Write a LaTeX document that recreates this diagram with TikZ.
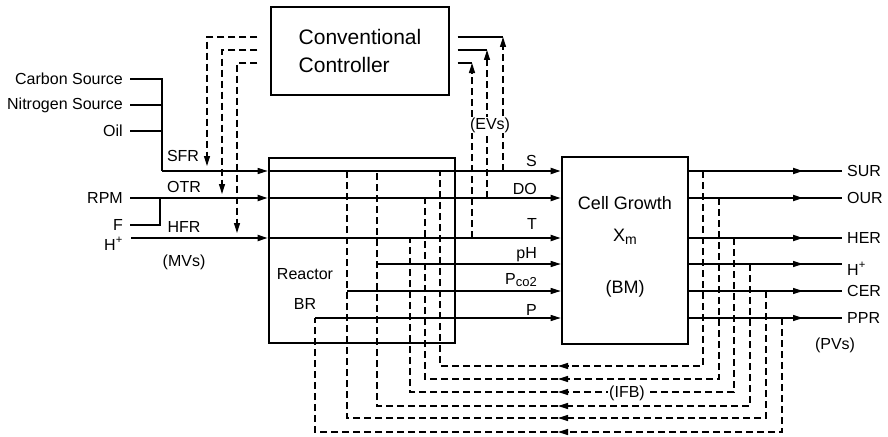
\documentclass[tikz,border=0pt]{standalone}
\usepackage{fontspec}
\setmainfont{Liberation Sans}
\usetikzlibrary{arrows.meta, positioning, calc}

\newcommand{\lowtxt}[2]{\raisebox{-0.35ex}{\fontsize{#1}{#1}\selectfont #2}}

\begin{document}
\begin{tikzpicture}[x=1pt, y=-1pt,
    blk/.style={draw, line width=2.6pt, inner sep=0pt},
    lbl/.style={font=\fontsize{16}{19}\selectfont, inner sep=1pt},
    sig/.style={line width=1.8pt},
    wire/.style={line width=1.2pt},
    fb/.style={line width=1.2pt, dash pattern=on 7pt off 4pt},
    tip/.style={-{Triangle[length=10pt,width=6pt]}},
]
\useasboundingbox (0,0) rectangle (888,436);

% Blocks
\node[draw, line width=1.3pt, minimum width=178pt, minimum height=88pt, align=left, font=\fontsize{21}{28}\selectfont] (ctrl) at (360,51) {Conventional\\Controller};
\node[blk, minimum width=186pt, minimum height=185pt] (reactor) at (362,250.5) {};
\node[blk, minimum width=126pt, minimum height=187pt] (cell) at (625,250.5) {};

% Block texts
\node[lbl, anchor=base] (rtxt) at (305,279) {Reactor};
\node[lbl, anchor=base] (brtxt) at (305,309) {BR};
\node[font=\fontsize{18}{21}\selectfont, anchor=base] (ctxt) at (625,209.5) {Cell Growth};
\node[font=\fontsize{18}{21}\selectfont, anchor=base] (xmtxt) at (625,241.5) {X\lowtxt{14}{m}};
\node[font=\fontsize{18}{21}\selectfont, anchor=base] (bmtxt) at (625,293) {(BM)};

% Signal levels and columns
\coordinate (yS) at (0,171);
\coordinate (yDO) at (0,198);
\coordinate (yT) at (0,238);
\coordinate (ypH) at (0,264);
\coordinate (yPc) at (0,291);
\coordinate (yP) at (0,318);
\coordinate (c1) at (0,37);
\coordinate (c2) at (0,50);
\coordinate (c3) at (0,63);
\coordinate (xr1) at (440,0);
\coordinate (xr2) at (425,0);
\coordinate (xr3) at (410,0);
\coordinate (xr4) at (377,0);
\coordinate (xr5) at (347,0);
\coordinate (xr6) at (315,0);
\coordinate (xo1) at (703,0);
\coordinate (xo2) at (719,0);
\coordinate (xo3) at (734,0);
\coordinate (xo4) at (750,0);
\coordinate (xo5) at (766,0);
\coordinate (xo6) at (782,0);
\coordinate (yf1) at (0,366);
\coordinate (yf2) at (0,379);
\coordinate (yf3) at (0,392);
\coordinate (yf4) at (0,406);
\coordinate (yf5) at (0,418);
\coordinate (yf6) at (0,432);
\coordinate (xa) at (558,0);
\coordinate (xmid) at (803,0);
\coordinate (xend) at (842,0);
\coordinate (xe1) at (503,0);
\coordinate (xe2) at (487,0);
\coordinate (xe3) at (472,0);

% Inputs (MVs)
\node[lbl, anchor=east] (carbon) at (124,79) {Carbon Source};
\node[lbl, anchor=east] (nitro) at (124,105) {Nitrogen Source};
\node[lbl, anchor=east] (oil) at (124,131) {Oil};
\node[lbl, anchor=east] (rpm) at (124,198) {RPM};
\node[lbl, anchor=east] (fin) at (124,225) {F};
\node[lbl, anchor=base east] (hin) at (124,250) {H\textsuperscript{+}};
\coordinate (jS) at (162,171);
\coordinate (jF) at (160,198);
\coordinate (hstart) at (131,238);

\draw[wire] ([xshift=6pt]carbon.east) -| (jS);
\draw[wire] ([xshift=6pt]nitro.east) -- (jS |- nitro.east);
\draw[wire] ([xshift=6pt]oil.east) -- (jS |- oil.east);
\draw[wire, tip] (jS) -- (reactor.west |- jS);
\draw[sig, tip] ([xshift=6pt]rpm.east) -- (reactor.west |- rpm.east);
\draw[wire] ([xshift=6pt]fin.east) -| (jF);
\draw[sig, tip] (hstart) -- (reactor.west |- hstart);

\node[lbl, anchor=base] (sfr) at (183,161) {SFR};
\node[lbl, anchor=base] (otr) at (184,192) {OTR};
\node[lbl, anchor=base] (hfr) at (184,232) {HFR};
\node[lbl] (mvs) at (184,262) {(MVs)};

% Controller outputs
\coordinate (tS) at (207,166);
\coordinate (tO) at (222,194);
\coordinate (tH) at (237,233);
\draw[fb, tip] ($(ctrl.west |- c1)+(-13,0)$) -| (tS);
\draw[fb, tip] ($(ctrl.west |- c2)+(-13,0)$) -| (tO);
\draw[fb, tip] ($(ctrl.west |- c3)+(-13,0)$) -| (tH);

% Reactor to cell growth
\draw[sig, tip] (reactor.west |- yS) -- (cell.west |- yS);
\draw[sig, tip] (reactor.west |- yDO) -- (cell.west |- yDO);
\draw[sig, tip] (reactor.west |- yT) -- (cell.west |- yT);
\draw[wire, tip] (xr4 |- ypH) -- (cell.west |- ypH);
\draw[wire, tip] (xr5 |- yPc) -- (cell.west |- yPc);
\draw[wire, tip] (xr6 |- yP) -- (cell.west |- yP);

\node[lbl, anchor=base east] (slbl) at (538,166) {S};
\node[lbl, anchor=base east] (dolbl) at (538,194) {DO};
\node[lbl, anchor=base east] (tlbl) at (538,229) {T};
\node[lbl, anchor=base east] (phlbl) at (538,258) {pH};
\node[lbl, anchor=base east] (pclbl) at (538,284) {P\lowtxt{13}{co2}};
\node[lbl, anchor=base east] (plbl) at (538,315) {P};

% Measured variables to controller (EVs)
\draw[wire] ($(ctrl.east |- c1)+(8,0)$) -- (xe1 |- c1);
\draw[wire] ($(ctrl.east |- c2)+(8,0)$) -- (xe2 |- c2);
\draw[wire] ($(ctrl.east |- c3)+(8,0)$) -- (xe3 |- c3);
\draw[fb, tip] (xe1 |- yS) -- (xe1 |- c1);
\draw[fb, tip] (xe2 |- yDO) -- (xe2 |- c2);
\draw[fb, tip] (xe3 |- yT) -- (xe3 |- c3);
\node[lbl, fill=white] (evs) at (490,125) {(EVs)};

% Outputs (PVs)
\node[lbl, anchor=west] (sur) at (846,171) {SUR};
\node[lbl, anchor=west] (our) at (846,198) {OUR};
\node[lbl, anchor=west] (her) at (846,238) {HER};
\node[lbl, anchor=base west] (hout) at (846,275) {H\textsuperscript{+}};
\node[lbl, anchor=west] (cer) at (846,291) {CER};
\node[lbl, anchor=west] (ppr) at (846,318) {PPR};
\node[lbl] (pvs) at (835,345) {(PVs)};

\draw[sig] (cell.east |- yS) -- (xend |- yS);
\draw[sig] (cell.east |- yDO) -- (xend |- yDO);
\draw[sig] (cell.east |- yT) -- (xend |- yT);
\draw[wire] (cell.east |- ypH) -- (xend |- ypH);
\draw[wire] (cell.east |- yPc) -- (xend |- yPc);
\draw[wire] (cell.east |- yP) -- (xend |- yP);
\draw[sig, tip] (cell.east |- yS) -- (xmid |- yS);
\draw[sig, tip] (cell.east |- yDO) -- (xmid |- yDO);
\draw[sig, tip] (cell.east |- yT) -- (xmid |- yT);
\draw[wire, tip] (cell.east |- ypH) -- (xmid |- ypH);
\draw[wire, tip] (cell.east |- yPc) -- (xmid |- yPc);
\draw[wire, tip] (cell.east |- yP) -- (xmid |- yP);

% Internal feedback (IFB)
\draw[fb, tip] (xo1 |- yS) |- (xa |- yf1);
\draw[fb] (xa |- yf1) -| (xr1 |- yS);
\draw[fb, tip] (xo2 |- yDO) |- (xa |- yf2);
\draw[fb] (xa |- yf2) -| (xr2 |- yDO);
\draw[fb, tip] (xo3 |- yT) |- (xa |- yf3);
\draw[fb] (xa |- yf3) -| (xr3 |- yT);
\draw[fb, tip] (xo4 |- ypH) |- (xa |- yf4);
\draw[fb] (xa |- yf4) -| (xr4 |- yS);
\draw[fb, tip] (xo5 |- yPc) |- (xa |- yf5);
\draw[fb] (xa |- yf5) -| (xr5 |- yS);
\draw[fb, tip] (xo6 |- yP) |- (xa |- yf6);
\draw[fb] (xa |- yf6) -| (xr6 |- yP);
\node[lbl, fill=white] (ifb) at (627,393) {(IFB)};

\end{tikzpicture}
\end{document}
